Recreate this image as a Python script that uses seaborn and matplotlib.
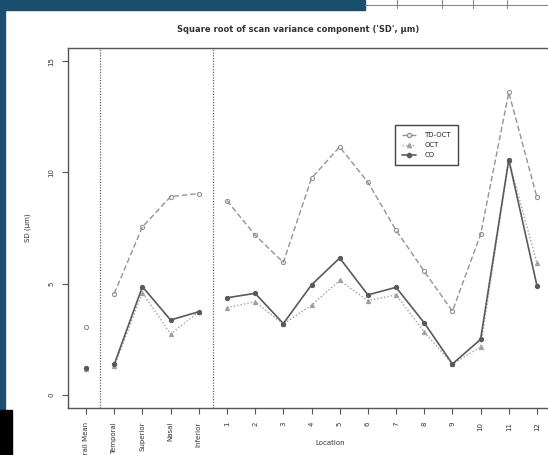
import matplotlib
matplotlib.use("Agg")
import matplotlib.pyplot as plt
from matplotlib.lines import Line2D
from matplotlib.patches import Rectangle
import seaborn as sns
import pandas as pd

# Locations along the x axis: overall mean, four quadrants, twelve clock hours
overall = ["Overall Mean"]
quadrants = ["Temporal", "Superior", "Nasal", "Inferior"]
clock_hours = ["1", "2", "3", "4", "5", "6", "7", "8", "9", "10", "11", "12"]

# Square root of scan variance component (SD, um) per device
td_oct_overall = [3.05]
td_oct_quad = [4.55, 7.55, 8.91, 9.05]
td_oct_clock = [8.73, 7.18, 5.95, 9.74, 11.15, 9.56, 7.40, 5.55, 3.76, 7.21, 13.60, 8.88]

oct_overall = [1.15]
oct_quad = [1.27, 4.59, 2.73, 3.73]
oct_clock = [3.92, 4.18, 3.17, 4.03, 5.14, 4.23, 4.49, 2.82, 1.38, 2.14, 10.55, 5.92]

co_overall = [1.18]
co_quad = [1.36, 4.86, 3.36, 3.73]
co_clock = [4.36, 4.56, 3.20, 4.94, 6.15, 4.49, 4.83, 3.23, 1.38, 2.49, 10.58, 4.90]

series_names = ["TD-OCT", "OCT", "CO"]
y_ticks = [0, 5, 10, 15]

labels = overall + quadrants + clock_hours
rows = []
for name, parts in zip(series_names,
                       [(td_oct_overall, td_oct_quad, td_oct_clock),
                        (oct_overall, oct_quad, oct_clock),
                        (co_overall, co_quad, co_clock)]):
    pos = 1
    for seg, vals in enumerate(parts):
        for v in vals:
            rows.append({"series": name, "segment": seg, "x": pos, "sd": v})
            pos += 1
df = pd.DataFrame(rows)

styles = {
    "TD-OCT": dict(color="#949494", linestyle=(0, (4, 2)), marker="o",
                   mfc="none", lw=1.0),
    "OCT": dict(color="#a0a0a0", linestyle=(0, (1, 1.5)), marker="^",
                mfc="#a0a0a0", lw=1.0),
    "CO": dict(color="#5a5a5a", linestyle="-", marker="o",
               mfc="#5a5a5a", lw=1.2),
}

sns.set_style("white")
plt.rcParams["font.family"] = ["DejaVu Sans"]

W, H = 548, 455
fig = plt.figure(figsize=(W / 100, H / 100), dpi=100, facecolor="white")

# Slide background around the embedded figure
bg = "#1b4f6d"
fig.patches.append(Rectangle((0, 0), 5 / W, 1, transform=fig.transFigure,
                             color=bg, zorder=-5))
fig.patches.append(Rectangle((0, 1 - 10 / H), 365 / W, 10 / H,
                             transform=fig.transFigure, color=bg, zorder=-5))
fig.patches.append(Rectangle((0, 0), 12 / W, 45 / H, transform=fig.transFigure,
                             color="black", zorder=-4))
fig.lines.append(Line2D([365 / W, 1], [1 - 5 / H, 1 - 5 / H],
                        transform=fig.transFigure, color="#888888", lw=0.8))
for px in [397, 442, 473, 507]:
    fig.lines.append(Line2D([px / W, px / W], [1 - 8 / H, 1],
                            transform=fig.transFigure, color="#888888", lw=0.8))

ax = fig.add_axes([68 / W, (H - 408) / H, (555 - 68) / W, (408 - 48) / H])
ax.set_facecolor("white")

for name in series_names:
    st = styles[name]
    sub = df[df["series"] == name]
    for seg, g in sub.groupby("segment"):
        sns.lineplot(data=g, x="x", y="sd", ax=ax, color=st["color"],
                     linestyle=st["linestyle"], lw=st["lw"], marker=st["marker"],
                     markersize=3.0, markerfacecolor=st["mfc"],
                     markeredgecolor=st["color"], markeredgewidth=0.8,
                     estimator=None, sort=False, legend=False)

for xv in [1.5, 5.5]:
    ax.axvline(xv, color="#666666", linestyle=(0, (1, 1.2)), lw=0.9)

n = len(labels)
pad_x = 0.04 * (n - 1)
ax.set_xlim(1 - pad_x, n + pad_x)
pad_y = 0.04 * (y_ticks[-1] - y_ticks[0])
ax.set_ylim(y_ticks[0] - pad_y, y_ticks[-1] + pad_y)
ax.set_xticks(range(1, n + 1))
ax.set_xticklabels(labels, rotation=90, fontsize=5.0, color="#333333")
ax.set_yticks(y_ticks)
ax.set_yticklabels([str(t) for t in y_ticks], rotation=90, va="center",
                   fontsize=5.0, color="#333333")
ax.tick_params(axis="both", direction="out", length=4, width=0.8,
               color="#555555", pad=6, bottom=True, left=True)
ax.set_xlabel("Location", fontsize=5.0, color="#333333", labelpad=4)
ax.set_ylabel("SD (µm)", fontsize=5.0, color="#333333", labelpad=10)
ax.yaxis.set_label_coords(-0.075, 0.5)
ax.xaxis.set_label_coords((330 - 68) / (555 - 68), -(440 - 408) / 360)
for sp in ax.spines.values():
    sp.set_color("#555555")
    sp.set_linewidth(1.0)
    sp.set_visible(True)

handles = [Line2D([], [], color=styles[s]["color"],
                  linestyle=styles[s]["linestyle"], lw=styles[s]["lw"],
                  marker=styles[s]["marker"], markersize=3.0,
                  markerfacecolor=styles[s]["mfc"],
                  markeredgecolor=styles[s]["color"]) for s in series_names]
leg = ax.legend(handles, series_names, loc="upper left",
                bbox_to_anchor=((395 - 68) / 487, (408 - 125) / 360),
                fontsize=5.0, frameon=True, fancybox=False, framealpha=1,
                handlelength=2.0, handletextpad=1.2, borderpad=1.0,
                labelspacing=0.6, borderaxespad=0)
leg.get_frame().set_edgecolor("#444444")
leg.get_frame().set_linewidth(1.0)

fig.text(298 / W, 1 - 29 / H, "Square root of scan variance component ('SD', µm)",
         ha="center", va="center", fontsize=6.0, fontweight="bold",
         color="#333333")

fig.savefig("out.png", dpi=100, facecolor=fig.get_facecolor())
